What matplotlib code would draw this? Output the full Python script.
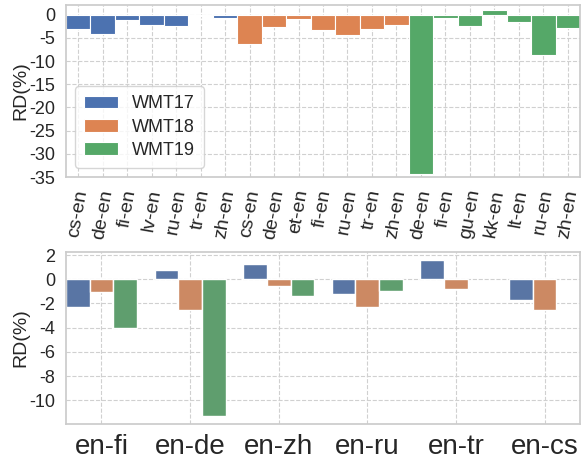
import matplotlib
matplotlib.use("Agg")
import matplotlib.pyplot as plt
import seaborn as sns
import numpy as np
from matplotlib.colors import to_rgb
import colorsys

sns.set_theme(style="whitegrid")
plt.rcParams['font.family'] = ['Liberation Sans', 'DejaVu Sans']
plt.rcParams['axes.unicode_minus'] = False

# Top chart data
wmt17_pairs = ["cs-en", "de-en", "fi-en", "lv-en", "ru-en", "tr-en", "zh-en"]
wmt17_vals = [-3.0, -4.25, -1.15, -2.3, -2.45, -0.3, -0.8]
wmt18_pairs = ["cs-en", "de-en", "et-en", "fi-en", "ru-en", "tr-en", "zh-en"]
wmt18_vals = [-6.3, -2.7, -1.0, -3.2, -4.3, -3.0, -2.2]
wmt19_pairs = ["de-en", "fi-en", "gu-en", "kk-en", "lt-en", "ru-en", "zh-en"]
wmt19_vals = [-34.3, -0.65, -2.4, 1.0, -1.5, -8.6, -2.8]

# Bottom chart data
groups = ["en-fi", "en-de", "en-zh", "en-ru", "en-tr", "en-cs"]
bottom_wmt17 = [-2.25, 0.8, 1.23, -1.2, 1.55, -1.7]
bottom_wmt18 = [-1.07, -2.5, -0.55, -2.3, -0.8, -2.55]
bottom_wmt19 = [-4.0, -11.3, -1.35, -1.0, np.nan, np.nan]

series_names = ["WMT17", "WMT18", "WMT19"]
pal = sns.color_palette("deep", 3)

def desat(c, s=0.75):
    h, l, sat = colorsys.rgb_to_hls(*to_rgb(c))
    return colorsys.hls_to_rgb(h, l, sat * s)

fig = plt.figure(figsize=(5.82, 4.59), dpi=100)
ax1 = fig.add_axes([66/582, 1-177/459, 514/582, 172/459])
ax2 = fig.add_axes([66/582, 1-424/459, 514/582, 172/459])

grid_kw = dict(linestyle='--', color='#d0d0d0', linewidth=0.8)

# Top chart
pos = 0
labels = []
for name, pairs, vals, col in zip(series_names,
                                  [wmt17_pairs, wmt18_pairs, wmt19_pairs],
                                  [wmt17_vals, wmt18_vals, wmt19_vals], pal):
    x = np.arange(pos, pos + len(pairs))
    ax1.bar(x, vals, width=1.0, color=col, edgecolor='white', linewidth=0.8, label=name)
    labels += pairs
    pos += len(pairs)
ax1.set_xticks(np.arange(len(labels)))
ax1.set_xticklabels(labels, rotation=80, fontsize=14)
ax1.set_xlim(-0.5, len(labels) - 0.5)
ax1.set_ylim(-35, 2.1)
ax1.set_yticks([0, -5, -10, -15, -20, -25, -30, -35])
ax1.tick_params(axis='y', labelsize=13, pad=2)
ax1.tick_params(axis='x', pad=2)
ax1.set_ylabel("RD(%)", fontsize=14)
ax1.yaxis.set_label_coords(-0.072, 0.5)
ax1.grid(True, **grid_kw)
ax1.set_axisbelow(True)
ax1.legend(loc='lower left', fontsize=13,
           frameon=True, handlelength=1.9, handleheight=0.7, borderpad=0.5,
           labelspacing=0.35, handletextpad=0.75)

# Bottom chart
w = 0.8 / 3
xg = np.arange(len(groups))
for i, (name, vals) in enumerate(zip(series_names, [bottom_wmt17, bottom_wmt18, bottom_wmt19])):
    ax2.bar(xg + (i - 1) * w, vals, width=w, color=desat(pal[i]), edgecolor='white',
            linewidth=1.0, label=name)
ax2.set_xticks(xg)
ax2.set_xticklabels(groups, fontsize=20)
ax2.set_xlim(-0.4, len(groups) - 0.6)
ax2.set_ylim(-11.95, 2.25)
ax2.set_yticks([2, 0, -2, -4, -6, -8, -10])
ax2.tick_params(axis='y', labelsize=13, pad=2)
ax2.tick_params(axis='x', pad=1)
ax2.set_ylabel("RD(%)", fontsize=14)
ax2.yaxis.set_label_coords(-0.072, 0.5)
ax2.grid(True, **grid_kw)
ax2.set_axisbelow(True)

for ax in (ax1, ax2):
    for sp in ax.spines.values():
        sp.set_color('#cccccc')

fig.savefig("out.png", dpi=100)
